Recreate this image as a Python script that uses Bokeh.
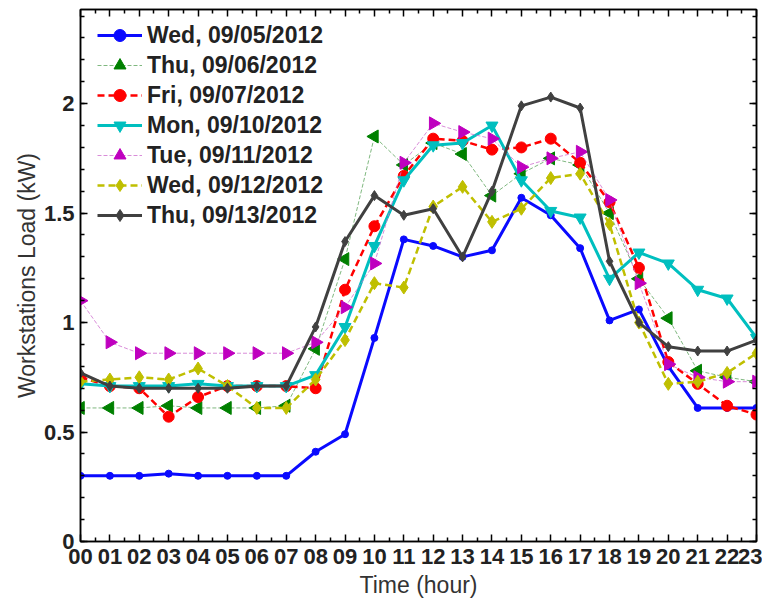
import numpy as np
from bokeh.plotting import figure
from bokeh.models import (Range1d, FixedTicker, LinearAxis, Legend, LegendItem, ColumnDataSource)
from bokeh.embed import file_html
from bokeh.resources import INLINE

hours = list(range(24))
hour_labels = [f"{h:02d}" for h in hours]

wed05 = [0.30, 0.30, 0.30, 0.31, 0.30, 0.30, 0.30, 0.30, 0.41, 0.49, 0.93, 1.38,
         1.35, 1.30, 1.33, 1.57, 1.49, 1.34, 1.01, 1.06, 0.80, 0.61, 0.61, 0.61]
thu06 = [0.61, 0.61, 0.61, 0.62, 0.61, 0.61, 0.61, 0.62, 0.88, 1.29, 1.85, 1.72,
         1.82, 1.77, 1.58, 1.68, 1.75, 1.72, 1.50, 1.20, 1.02, 0.78, 0.75, 0.73]
fri07 = [0.75, 0.71, 0.70, 0.57, 0.66, 0.71, 0.71, 0.71, 0.70, 1.15, 1.44, 1.67,
         1.84, 1.83, 1.79, 1.80, 1.84, 1.73, 1.55, 1.25, 0.82, 0.72, 0.62, 0.58]
mon10 = [0.72, 0.71, 0.71, 0.71, 0.72, 0.71, 0.71, 0.71, 0.76, 0.98, 1.35, 1.65,
         1.81, 1.82, 1.90, 1.65, 1.51, 1.48, 1.20, 1.32, 1.27, 1.15, 1.11, 0.93]
tue11 = [1.10, 0.91, 0.86, 0.86, 0.86, 0.86, 0.86, 0.86, 0.91, 1.07, 1.27, 1.73,
         1.91, 1.87, 1.84, 1.71, 1.75, 1.78, 1.56, 1.18, 0.81, 0.75, 0.73, 0.73]
wed12 = [0.73, 0.74, 0.75, 0.74, 0.79, 0.71, 0.61, 0.61, 0.74, 0.92, 1.18, 1.16,
         1.53, 1.62, 1.46, 1.52, 1.66, 1.68, 1.45, 1.00, 0.72, 0.73, 0.77, 0.86]
thu13 = [0.77, 0.71, 0.70, 0.70, 0.70, 0.70, 0.71, 0.71, 0.98, 1.37, 1.58, 1.49,
         1.52, 1.30, 1.60, 1.99, 2.03, 1.98, 1.28, 1.00, 0.89, 0.87, 0.87, 0.92]

series_names = ["Wed, 09/05/2012", "Thu, 09/06/2012", "Fri, 09/07/2012",
                "Mon, 09/10/2012", "Tue, 09/11/2012", "Wed, 09/12/2012",
                "Thu, 09/13/2012"]
series_values = [wed05, thu06, fri07, mon10, tue11, wed12, thu13]

y_ticks = [0, 0.5, 1, 1.5, 2]
y_tick_labels = ["0", "0.5", "1", "1.5", "2"]

styles = [
    dict(lc="#0a0aff", la=1.0, lw=3, dash="solid", m="circle", ms=7, mc="#0a0aff", ang=0.0),
    dict(lc="#4a9a4a", la=0.7, lw=1, dash="4 2", m="triangle", ms=13, mc="#008000", ang=np.pi / 2),
    dict(lc="#ff0000", la=1.0, lw=2.5, dash="7 4", m="circle", ms=11, mc="#ff0000", ang=0.0),
    dict(lc="#00bfbf", la=1.0, lw=3, dash="solid", m="inverted_triangle", ms=12, mc="#00bfbf", ang=0.0),
    dict(lc="#d070d0", la=0.8, lw=1, dash="4 2", m="triangle", ms=13, mc="#bf00bf", ang=-np.pi / 2),
    dict(lc="#bfbf00", la=1.0, lw=2.5, dash="7 4", m="diamond", ms=13, mc="#bfbf00", ang=0.0),
    dict(lc="#404040", la=1.0, lw=3, dash="solid", m="diamond", ms=10, mc="#404040", ang=0.0),
]

p = figure(width=762, height=600, output_backend="svg", toolbar_location=None,
           x_range=Range1d(0, 23), y_range=Range1d(0, 2.43),
           min_border_left=80, min_border_right=6, min_border_top=9,
           min_border_bottom=54)
p.background_fill_color = "white"
p.border_fill_color = "white"
p.xgrid.visible = False
p.ygrid.visible = False
p.outline_line_color = "black"
p.outline_line_width = 1.5

font = "Liberation Sans"

xa = p.xaxis[0]
xa.ticker = FixedTicker(ticks=hours, minor_ticks=[h + 0.5 for h in hours[:-1]])
xa.major_label_overrides = {h: lab for h, lab in zip(hours, hour_labels)}
xa.axis_label = "Time (hour)"
ya = p.yaxis[0]
ya.ticker = FixedTicker(ticks=y_ticks, minor_ticks=[round(0.1 * i, 1) for i in range(25)])
ya.major_label_overrides = {t: lab for t, lab in zip(y_ticks, y_tick_labels)}
ya.axis_label = "Workstations Load (kW)"

for ax in (xa, ya):
    ax.major_tick_in = 7
    ax.major_tick_out = 0
    ax.minor_tick_in = 4
    ax.minor_tick_out = 0
    ax.axis_line_color = "black"
    ax.axis_line_width = 1.5
    ax.major_tick_line_width = 1.5
    ax.minor_tick_line_width = 1.5
    ax.major_label_text_font = font
    ax.major_label_text_font_style = "bold"
    ax.major_label_text_font_size = "22px"
    ax.major_label_text_color = "#222222"
    ax.axis_label_text_font = font
    ax.axis_label_text_font_style = "normal"
    ax.axis_label_text_font_size = "23px"
    ax.axis_label_text_color = "#333333"
xa.major_label_standoff = 7
xa.axis_label_standoff = 5
ya.major_label_standoff = 6
ya.axis_label_standoff = 1

top = LinearAxis(ticker=FixedTicker(ticks=hours, minor_ticks=[h + 0.5 for h in hours[:-1]]))
right = LinearAxis(ticker=FixedTicker(ticks=y_ticks, minor_ticks=[round(0.1 * i, 1) for i in range(25)]))
for ax in (top, right):
    ax.major_tick_in = 7
    ax.major_tick_out = 0
    ax.minor_tick_in = 4
    ax.minor_tick_out = 0
    ax.axis_line_width = 1.5
    ax.major_tick_line_width = 1.5
    ax.minor_tick_line_width = 1.5
    ax.major_label_text_font_size = "0px"
    ax.major_label_standoff = 0
    ax.major_label_text_alpha = 0
p.add_layout(top, "above")
p.add_layout(right, "right")

items = []
for name, vals, st in zip(series_names, series_values, styles):
    src = ColumnDataSource(dict(x=hours, y=vals, ang=[st["ang"]] * len(hours)))
    r1 = p.line("x", "y", source=src, line_color=st["lc"], line_alpha=st["la"],
                line_width=st["lw"], line_dash=st["dash"])
    r2 = p.scatter("x", "y", source=src, marker=st["m"], size=st["ms"], angle="ang",
                   fill_color=st["mc"], line_color=st["mc"], line_width=1)
    items.append(LegendItem(label=name, renderers=[r1, r2], index=0))

legend = Legend(items=items, location=(12, 306))
legend.background_fill_alpha = 0
legend.border_line_alpha = 0
legend.label_text_font = font
legend.label_text_font_style = "bold"
legend.label_text_font_size = "23px"
legend.label_text_color = "#222222"
legend.glyph_width = 45
legend.glyph_height = 30
legend.label_height = 30
legend.spacing = 0
legend.padding = 5
legend.margin = 0
legend.label_standoff = 5
p.add_layout(legend, "center")

open("out.html", "w").write(file_html(p, INLINE))
